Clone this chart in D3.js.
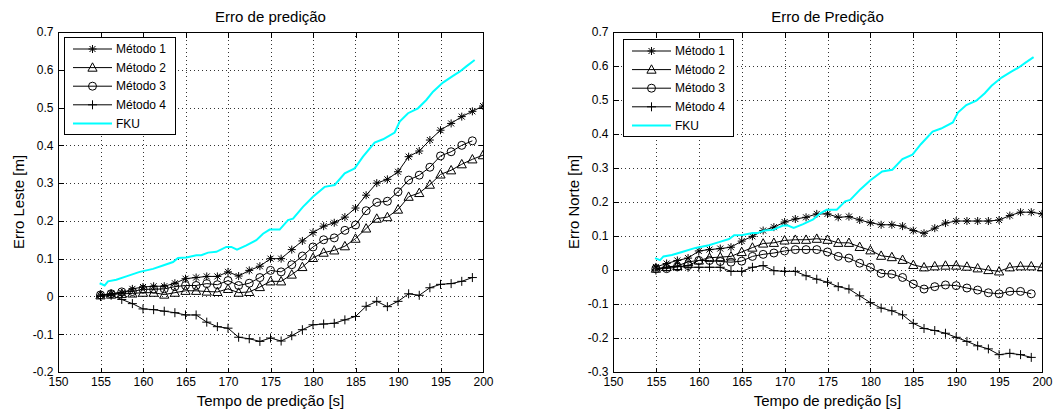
<!DOCTYPE html>
<html><head><meta charset="utf-8">
<script src="https://cdn.jsdelivr.net/npm/d3@7"></script>
<style>
body{margin:0;background:#fff;}
svg text{font-family:"Liberation Sans",Arial,sans-serif;fill:#000;}
</style></head>
<body><svg id="chart" width="1055" height="414"></svg>
<script>
// ---------- DATA ----------
const tempo = [155,156.25,157.5,158.75,160,161.25,162.5,163.75,165,166.25,167.5,168.75,170,171.25,172.5,173.75,175,176.25,177.5,178.75,180,181.25,182.5,183.75,185,186.25,187.5,188.75,190,191.25,192.5,193.75,195,196.25,197.5,198.75,200];

const lesteM1 = [0.003,0.007,0.009,0.02,0.025,0.027,0.027,0.035,0.047,0.05,0.053,0.053,0.065,0.054,0.069,0.08,0.1,0.1,0.124,0.147,0.169,0.186,0.195,0.21,0.234,0.268,0.30,0.31,0.33,0.37,0.385,0.414,0.44,0.458,0.476,0.49,0.504];
const lesteM2 = [0.003,0.005,0.007,0.008,0.01,0.01,0.005,0.01,0.015,0.015,0.013,0.012,0.02,0.01,0.012,0.025,0.04,0.04,0.058,0.078,0.102,0.116,0.122,0.133,0.153,0.18,0.206,0.21,0.23,0.264,0.274,0.296,0.323,0.334,0.35,0.363,0.374];
const lesteM3 = [0.004,0.007,0.012,0.013,0.019,0.019,0.02,0.026,0.029,0.029,0.034,0.031,0.042,0.029,0.035,0.05,0.069,0.065,0.084,0.107,0.131,0.15,0.155,0.175,0.189,0.227,0.249,0.252,0.277,0.308,0.321,0.342,0.372,0.383,0.4,0.412];
const lesteM4 = [0,0.003,-0.008,-0.019,-0.033,-0.035,-0.039,-0.043,-0.049,-0.049,-0.068,-0.08,-0.084,-0.108,-0.112,-0.119,-0.11,-0.118,-0.104,-0.088,-0.075,-0.073,-0.071,-0.062,-0.053,-0.026,-0.013,-0.027,-0.013,0.007,0.003,0.023,0.032,0.034,0.04,0.05];

const norteM1 = [0.009,0.019,0.028,0.035,0.056,0.06,0.063,0.067,0.085,0.099,0.116,0.126,0.141,0.15,0.155,0.165,0.165,0.155,0.157,0.147,0.139,0.133,0.133,0.129,0.116,0.108,0.123,0.138,0.144,0.144,0.144,0.144,0.147,0.16,0.17,0.17,0.165];
const norteM2 = [0.004,0.009,0.012,0.024,0.028,0.036,0.038,0.04,0.053,0.066,0.078,0.08,0.087,0.089,0.089,0.092,0.089,0.08,0.08,0.068,0.058,0.042,0.038,0.03,0.015,0.008,0.011,0.013,0.013,0.01,0.005,0,-0.004,0.008,0.011,0.011,0.008];
const norteM3 = [0.004,0.004,0.009,0.013,0.028,0.028,0.025,0.023,0.026,0.04,0.046,0.05,0.056,0.06,0.06,0.06,0.053,0.04,0.035,0.02,0.008,-0.01,-0.012,-0.022,-0.041,-0.056,-0.049,-0.044,-0.046,-0.053,-0.059,-0.067,-0.07,-0.063,-0.063,-0.07];
const norteM4 = [0,0.008,0.011,0.008,0.008,0.008,0.008,-0.004,-0.004,0.008,0.013,-0.002,-0.004,-0.004,-0.017,-0.027,-0.036,-0.049,-0.056,-0.076,-0.096,-0.112,-0.12,-0.132,-0.157,-0.172,-0.178,-0.186,-0.198,-0.21,-0.223,-0.232,-0.249,-0.245,-0.249,-0.257];

const fkuTempo = [154.9,155.49,155.88,156.86,158.04,159.61,161.18,162.35,163.53,164.12,165.1,166.27,166.86,167.65,168.63,169.8,170.39,171.06,172.16,173.33,174.12,174.9,176.08,177.06,177.65,178.82,180,181.37,182.55,183.73,184.9,185.88,187.25,188.24,189.61,190.2,191.18,192.35,193.33,194.12,195.29,196.47,197.25,198.04,199.02];
const fkuErro = [0.035,0.029,0.04,0.044,0.053,0.065,0.073,0.082,0.091,0.102,0.103,0.109,0.109,0.116,0.118,0.131,0.131,0.124,0.135,0.149,0.166,0.177,0.177,0.202,0.206,0.237,0.264,0.29,0.295,0.326,0.339,0.37,0.407,0.416,0.434,0.463,0.485,0.498,0.52,0.542,0.566,0.584,0.595,0.609,0.626];

const seriesNames = ["Método 1","Método 2","Método 3","Método 4","FKU"];
const xTicks = [150,155,160,165,170,175,180,185,190,195,200];
const xTickLabels = ["150","155","160","165","170","175","180","185","190","195","200"];
const yTicksLeste = [-0.2,-0.1,0,0.1,0.2,0.3,0.4,0.5,0.6,0.7];
const yTickLabelsLeste = ["-0.2","-0.1","0","0.1","0.2","0.3","0.4","0.5","0.6","0.7"];
const yTicksNorte = [-0.3,-0.2,-0.1,0,0.1,0.2,0.3,0.4,0.5,0.6,0.7];
const yTickLabelsNorte = ["-0.3","-0.2","-0.1","0","0.1","0.2","0.3","0.4","0.5","0.6","0.7"];

// ---------- DRAW ----------
const svg = d3.select("#chart");
const markerTypes = ["star","tri","circle","plus"];

function markerPath(type){
  const p = d3.path();
  if(type==="star"){
    p.moveTo(-4,0);p.lineTo(4,0);p.moveTo(0,-4);p.lineTo(0,4);
    p.moveTo(-3,-3);p.lineTo(3,3);p.moveTo(-3,3);p.lineTo(3,-3);
  } else if(type==="plus"){
    p.moveTo(-4.5,0);p.lineTo(4.5,0);p.moveTo(0,-4.5);p.lineTo(0,4.5);
  } else if(type==="tri"){
    p.moveTo(0,-4.8);p.lineTo(4.6,3.6);p.lineTo(-4.6,3.6);p.closePath();
  } else {
    p.arc(0,0,4,0,2*Math.PI);
  }
  return p.toString();
}

function panel(cfg){
  const {left,right,top,bottom,yDomain,yTicks,yTickLabels,title,ylabel,ylabelX,series,legend,id} = cfg;
  const x = d3.scaleLinear().domain([150,200]).range([left,right]);
  const y = d3.scaleLinear().domain(yDomain).range([bottom,top]);
  const g = svg.append("g");

  g.append("rect").attr("x",left).attr("y",top).attr("width",right-left).attr("height",bottom-top).attr("fill","#fff");

  // grid
  const grid = g.append("g").attr("stroke","#333").attr("stroke-width",1).attr("stroke-dasharray","1,3").attr("shape-rendering","crispEdges");
  xTicks.slice(1,-1).forEach(t=>grid.append("line").attr("x1",Math.round(x(t))+0.5).attr("x2",Math.round(x(t))+0.5).attr("y1",top).attr("y2",bottom));
  yTicks.slice(1,-1).forEach(t=>grid.append("line").attr("y1",Math.round(y(t))+0.5).attr("y2",Math.round(y(t))+0.5).attr("x1",left).attr("x2",right));

  // axes via d3
  const fmtX = d => xTickLabels[xTicks.indexOf(d)];
  const fmtY = d => yTickLabels[yTicks.indexOf(d)];
  const axB = g.append("g").attr("transform",`translate(0,${bottom+0.5})`)
    .call(d3.axisBottom(x).tickValues(xTicks).tickFormat(fmtX).tickSizeInner(-5).tickSizeOuter(0).tickPadding(10));
  const axT = g.append("g").attr("transform",`translate(0,${top+0.5})`)
    .call(d3.axisTop(x).tickValues(xTicks).tickFormat("").tickSizeInner(-5).tickSizeOuter(0));
  const axL = g.append("g").attr("transform",`translate(${left+0.5},0)`)
    .call(d3.axisLeft(y).tickValues(yTicks).tickFormat(fmtY).tickSizeInner(-5).tickSizeOuter(0).tickPadding(10));
  const axR = g.append("g").attr("transform",`translate(${right+0.5},0)`)
    .call(d3.axisRight(y).tickValues(yTicks).tickFormat("").tickSizeInner(-5).tickSizeOuter(0));
  [axB,axT,axL,axR].forEach(a=>{
    a.selectAll("path").remove();
    a.selectAll("line").attr("stroke","#000").attr("shape-rendering","crispEdges");
    a.selectAll("text").attr("font-size",12).attr("font-family","Liberation Sans, Arial, sans-serif").attr("fill","#000");
  });
  axB.selectAll("text").attr("dy","0.71em").attr("y",5);
  axL.selectAll("text").attr("x",-5);

  // clip
  g.append("clipPath").attr("id",id).append("rect").attr("x",left).attr("y",top).attr("width",right-left).attr("height",bottom-top);
  const plot = g.append("g").attr("clip-path",`url(#${id})`);

  const line = d3.line().x(d=>x(d[0])).y(d=>y(d[1]));
  series.forEach((vals,k)=>{
    const pts = vals.map((v,i)=>[tempo[i],v]);
    plot.append("path").attr("d",line(pts)).attr("fill","none").attr("stroke","#000").attr("stroke-width",1);
    plot.selectAll(null).data(pts).enter().append("path")
      .attr("d",markerPath(markerTypes[k])).attr("transform",d=>`translate(${x(d[0])},${y(d[1])})`)
      .attr("fill","none").attr("stroke","#000").attr("stroke-width",1);
  });
  const fpts = fkuErro.map((v,i)=>[fkuTempo[i],v]);
  plot.append("path").attr("d",line(fpts)).attr("fill","none").attr("stroke","#00ffff").attr("stroke-width",2);

  // box
  g.append("rect").attr("x",left+0.5).attr("y",top+0.5).attr("width",right-left).attr("height",bottom-top)
    .attr("fill","none").attr("stroke","#000").attr("shape-rendering","crispEdges");

  // legend
  const L = legend;
  g.append("rect").attr("x",L.x+0.5).attr("y",L.y+0.5).attr("width",L.w).attr("height",L.h).attr("fill","#fff").attr("stroke","#000").attr("shape-rendering","crispEdges");
  seriesNames.forEach((name,k)=>{
    const yy = L.y + 12 + k*18.6;
    const isF = k===4;
    g.append("line").attr("x1",L.x+9).attr("x2",L.x+48).attr("y1",yy).attr("y2",yy)
      .attr("stroke",isF?"#00ffff":"#000").attr("stroke-width",isF?2:1);
    if(!isF) g.append("path").attr("d",markerPath(markerTypes[k])).attr("transform",`translate(${L.x+28.5},${yy})`).attr("fill","none").attr("stroke","#000");
    g.append("text").attr("x",L.x+52).attr("y",yy).attr("dy","0.35em").attr("font-size",12).text(name);
  });

  // titles
  g.append("text").attr("x",(left+right)/2).attr("y",22).attr("text-anchor","middle").attr("font-size",15).text(title);
  g.append("text").attr("x",(left+right)/2).attr("y",406).attr("text-anchor","middle").attr("font-size",15).text("Tempo de predição [s]");
  g.append("text").attr("transform",`translate(${ylabelX},${(top+bottom)/2}) rotate(-90)`).attr("text-anchor","middle").attr("font-size",15).text(ylabel);
}

panel({id:"c1",left:58,right:483,top:32,bottom:372,yDomain:[-0.2,0.7],yTicks:yTicksLeste,yTickLabels:yTickLabelsLeste,
  title:"Erro de predição",ylabel:"Erro Leste [m]",ylabelX:24,series:[lesteM1,lesteM2,lesteM3,lesteM4],
  legend:{x:64,y:37,w:111,h:97}});
panel({id:"c2",left:613,right:1042,top:32,bottom:372,yDomain:[-0.3,0.7],yTicks:yTicksNorte,yTickLabels:yTickLabelsNorte,
  title:"Erro de Predição",ylabel:"Erro Norte [m]",ylabelX:579,series:[norteM1,norteM2,norteM3,norteM4],
  legend:{x:623,y:39,w:110,h:97}});
</script></body></html>
